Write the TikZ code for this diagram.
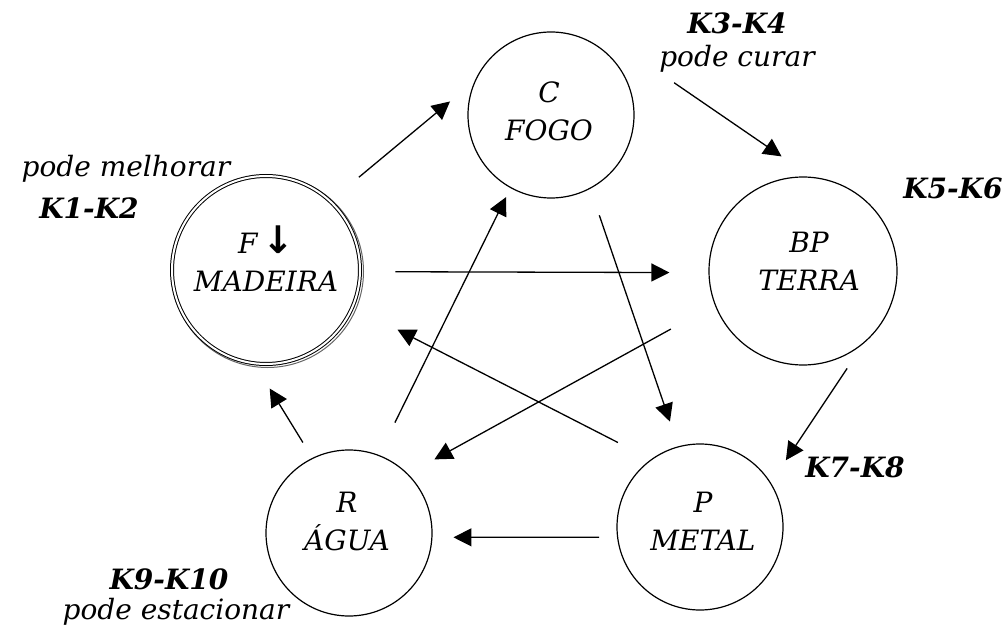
\documentclass[tikz,border=0pt]{standalone}
\usepackage{fontspec}
\setmainfont{DejaVu Serif}
\newfontfamily\symfont{DejaVu Sans}
\usetikzlibrary{arrows.meta}

\tikzset{
  elem/.style={circle,draw,line width=1.2pt,inner sep=0pt,minimum size=166pt},
  elemtext/.style={font=\fontsize{28}{38}\selectfont\itshape,align=center,inner sep=0pt},
  notetext/.style={font=\fontsize{28}{34}\selectfont\itshape,inner sep=0pt},
  klabel/.style={font=\fontsize{28}{34}\selectfont\bfseries\itshape,inner sep=0pt},
  arr/.style={line width=1.3pt,-{Triangle[length=18pt,width=18pt]}}
}

\begin{document}
\begin{tikzpicture}[x=1pt,y=-1pt]
\useasboundingbox (0,0) rectangle (1007,631);

% the five elements
\draw[black!60,line width=1pt] (267.5,271.5) circle (96pt);
\node[elem,fill=white,minimum size=188pt,double,double distance=2pt,line width=1pt] (madeira) at (266,270) {};
\node[elem] (fogo) at (551,115) {};
\node[elem,minimum size=188pt] (terra) at (803,271) {};
\node[elem] (metal) at (700,527) {};
\node[elem] (agua) at (349,533) {};

\node[elemtext] (fogotxt) at (549,111) {C\\FOGO};
\node[elemtext] (madeiratxt) at (266,259) {F\,{\symfont\bfseries\upshape\fontsize{38}{38}\selectfont ↓}\\MADEIRA};
\node[elemtext] (terratxt) at (809,261) {BP\\TERRA};
\node[elemtext] (aguatxt) at (347,521) {R\\ÁGUA};
\node[elemtext] (metaltxt) at (703,521) {P\\METAL};

% labels
\node[notetext] (melhorar) at (126,169) {pode melhorar};
\node[klabel] (k12) at (89,208) {K1-K2};
\node[klabel] (k34) at (737,23) {K3-K4};
\node[notetext] (curar) at (737,59) {pode curar};
\node[klabel] (k56) at (953,188) {K5-K6};
\node[klabel] (k78) at (855,467) {K7-K8};
\node[klabel] (k910) at (169,579) {K9-K10};
\node[notetext] (estacionar) at (176,612) {pode estacionar};

% outer cycle
\draw[arr,shorten <=37pt,shorten >=32pt] (madeira.47) -- (fogo.156);
\draw[arr,shorten >=36pt] ([xshift=15pt,yshift=-10pt]curar.south west) -- (terra.85);
\draw[arr,shorten <=30pt,shorten >=27pt] (terra.310) -- (metal.32);
\draw[arr,shorten <=18pt,shorten >=21pt] (metal.187) -- (agua.357);
\draw[arr,shorten <=18pt,shorten >=29pt] (agua.116) -- (madeira.263);

% inner star
\draw[arr,shorten <=35pt,shorten >=39pt] (madeira.359) -- (terra.181);
\draw[arr,shorten <=28pt,shorten >=26pt] (fogo.298) -- (metal.105);
\draw[arr,shorten <=50pt,shorten >=30pt] (terra.201) -- (agua.45);
\draw[arr,shorten <=37pt,shorten >=50pt] (metal.126) -- (madeira.337);
\draw[arr,shorten <=36pt,shorten >=10pt] (agua.69) -- (fogo.241);
\end{tikzpicture}
\end{document}
